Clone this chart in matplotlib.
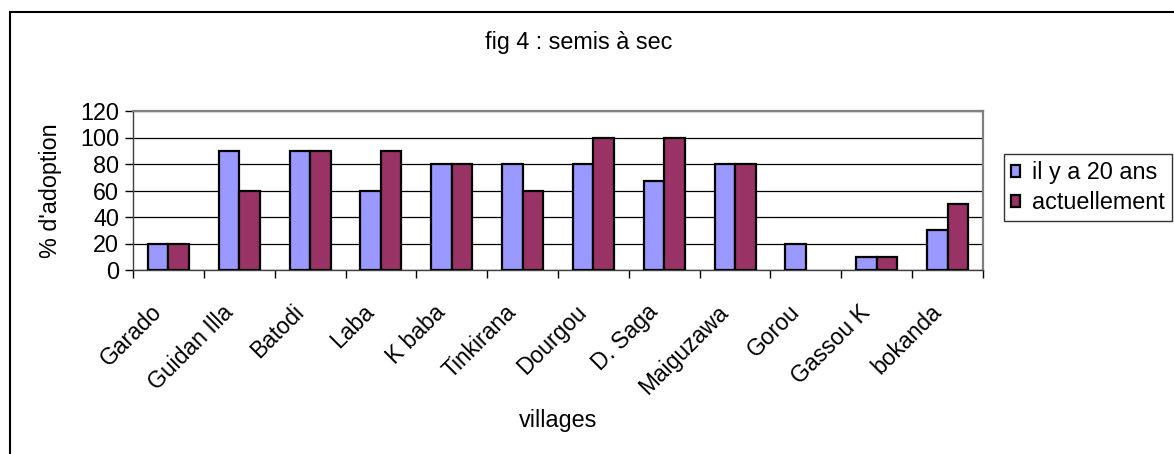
import matplotlib.pyplot as plt
import matplotlib.patches as mpatches
import matplotlib.transforms as mtransforms
import numpy as np

# Data
villages = ['Garado', 'Guidan Illa', 'Batodi', 'Laba', 'K baba', 'Tinkirana',
            'Dourgou', 'D. Saga', 'Maiguzawa', 'Gorou', 'Gassou K', 'bokanda']
il_y_a_20_ans = [20, 90, 90, 60, 80, 80, 80, 67, 80, 20, 10, 30]
actuellement = [20, 60, 90, 90, 80, 60, 100, 100, 80, 0, 10, 50]

plt.rcParams['font.family'] = ['Liberation Sans', 'DejaVu Sans']
fs = 16.8

W, H = 1174, 454
fig = plt.figure(figsize=(W / 100, H / 100), dpi=100)
ax = fig.add_axes([133 / W, 1 - 270 / H, (983 - 133) / W, (270 - 111) / H])

x = np.arange(len(villages))
bw = 0.29
# Excel draws nothing for a zero bar, so no outline there either
lw1 = [1.6 if v > 0 else 0 for v in il_y_a_20_ans]
lw2 = [1.6 if v > 0 else 0 for v in actuellement]
ax.bar(x - bw / 2, il_y_a_20_ans, bw, color='#9999FF', edgecolor='black',
       linewidth=lw1, label='il y a 20 ans', zorder=3)
ax.bar(x + bw / 2, actuellement, bw, color='#993366', edgecolor='black',
       linewidth=lw2, label='actuellement', zorder=3)

ax.set_xlim(-0.5, len(villages) - 0.5)
ax.set_ylim(0, 120)
ax.set_yticks(range(0, 121, 20))
ax.yaxis.grid(True, color='black', linewidth=0.9, zorder=0)
ax.set_axisbelow(True)

# category labels in the middle, tick marks between categories
ax.set_xticks(x)
ax.set_xticks(np.arange(-0.5, len(villages)), minor=True)
ax.tick_params(axis='x', which='major', length=0, pad=22)
ax.tick_params(axis='x', which='minor', length=6, width=1, direction='out')
ax.tick_params(axis='y', length=6, width=1, direction='out', labelsize=fs, pad=4)
ax.set_xticklabels(villages, rotation=45, ha='right', va='top',
                   rotation_mode='anchor', fontsize=16.5)
shift = mtransforms.ScaledTranslation(-0.18, 0, fig.dpi_scale_trans)
for lab in ax.get_xticklabels():
    lab.set_transform(lab.get_transform() + shift)

for s in ['left', 'bottom']:
    ax.spines[s].set_color('#404040')
    ax.spines[s].set_linewidth(1)
for s in ['top', 'right']:
    ax.spines[s].set_color('#808080')
    ax.spines[s].set_linewidth(1.6)

ax.set_ylabel("% d'adoption", fontsize=fs, labelpad=13)
fig.text((133 + 983) / 2 / W, 1 - 420 / H, 'villages', fontsize=fs,
         ha='center', va='center')
fig.text(579 / W, 1 - 42 / H, 'fig 4 : semis à sec', fontsize=fs,
         ha='center', va='center')

# outer chart border
fig.patches.append(mpatches.Rectangle((10 / W, -0.1), 1.2, 1 - 12 / H + 0.1,
                                      transform=fig.transFigure, fill=False,
                                      edgecolor='black', linewidth=1.5))

leg = fig.legend(loc='upper left', bbox_to_anchor=(1004 / W, 1 - 154 / H),
                 fontsize=fs, frameon=True, fancybox=False, shadow=False,
                 handlelength=0.4, handleheight=0.4, handletextpad=0.5,
                 borderpad=0.3, labelspacing=0.3, borderaxespad=0)
leg.get_frame().set_edgecolor('black')
leg.get_frame().set_linewidth(1)
for h in leg.legend_handles:
    h.set_linewidth(1.6)

fig.savefig('out.png', dpi=100)
